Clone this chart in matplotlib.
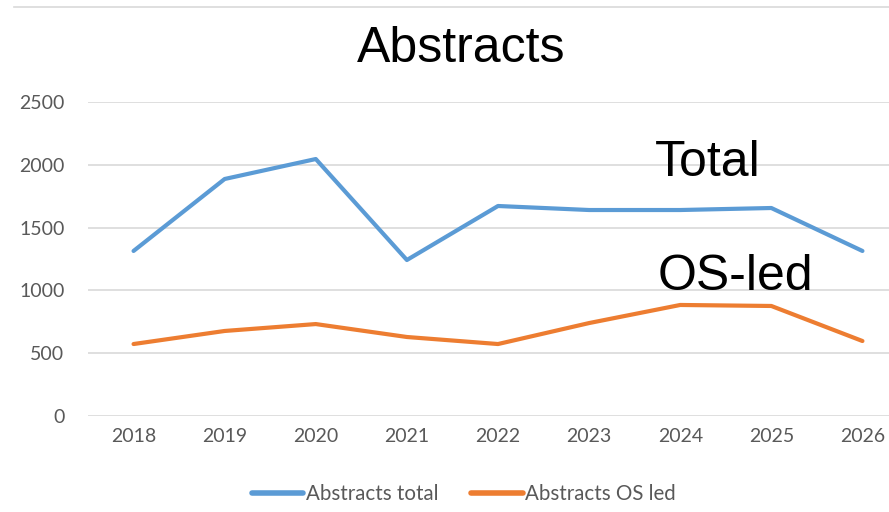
import matplotlib
matplotlib.use("Agg")
import matplotlib.pyplot as plt
from matplotlib.lines import Line2D

years = [2018, 2019, 2020, 2021, 2022, 2023, 2024, 2025, 2026]
abstracts_total = [1314, 1887, 2046, 1242, 1672, 1640, 1640, 1656, 1314]
abstracts_os_led = [573, 677, 732, 629, 573, 740, 884, 876, 597]
yticks = [0, 500, 1000, 1500, 2000, 2500]

BLUE = "#5B9BD5"
ORANGE = "#ED7D31"
GRID = "#D9D9D9"
TICK = "#595959"

plt.rcParams["font.family"] = ["Lato", "DejaVu Sans"]

fig = plt.figure(figsize=(8.89, 5.12), dpi=100)
ax = fig.add_axes([88 / 889, 96 / 512, 820 / 889, 314 / 512])

ax.plot(years, abstracts_total, color=BLUE, lw=3, solid_capstyle="round",
        solid_joinstyle="round", label="Abstracts total")
ax.plot(years, abstracts_os_led, color=ORANGE, lw=3, solid_capstyle="round",
        solid_joinstyle="round", label="Abstracts OS led")

ax.set_xlim(years[0] - 0.5, years[-1] + 0.5)
ax.set_ylim(0, 2500)
ax.set_xticks(years)
ax.set_yticks(yticks)
ax.grid(axis="y", color=GRID, lw=1.2)
ax.set_axisbelow(True)
for s in ax.spines.values():
    s.set_visible(False)
ax.tick_params(length=0, labelsize=14, colors=TICK)
ax.tick_params(axis="y", pad=17)
ax.tick_params(axis="x", pad=9)

ax.text(2023.72, 1911, "Total", fontsize=36, family="Liberation Sans", va="baseline")
ax.text(2023.75, 1003, "OS-led", fontsize=36, family="Liberation Sans", va="baseline")

fig.text(461 / 889, 1 - 62 / 512, "Abstracts", fontsize=36, family="Liberation Sans",
         ha="center", va="baseline")

# thin frame line at the top of the picture
fig.add_artist(Line2D([14 / 889, 1], [1 - 7 / 512] * 2, transform=fig.transFigure,
                      color=GRID, lw=1.2))

h, l = ax.get_legend_handles_labels()
leg = fig.legend(h, l, loc="center", bbox_to_anchor=(464 / 889, 1 - 494 / 512), ncol=2,
                 frameon=False, fontsize=14.8, handlelength=2.5, handletextpad=0.12,
                 columnspacing=1.6)
for t in leg.get_texts():
    t.set_color(TICK)
for ln in leg.get_lines():
    ln.set_linewidth(4)

fig.savefig("out.png", dpi=100)
